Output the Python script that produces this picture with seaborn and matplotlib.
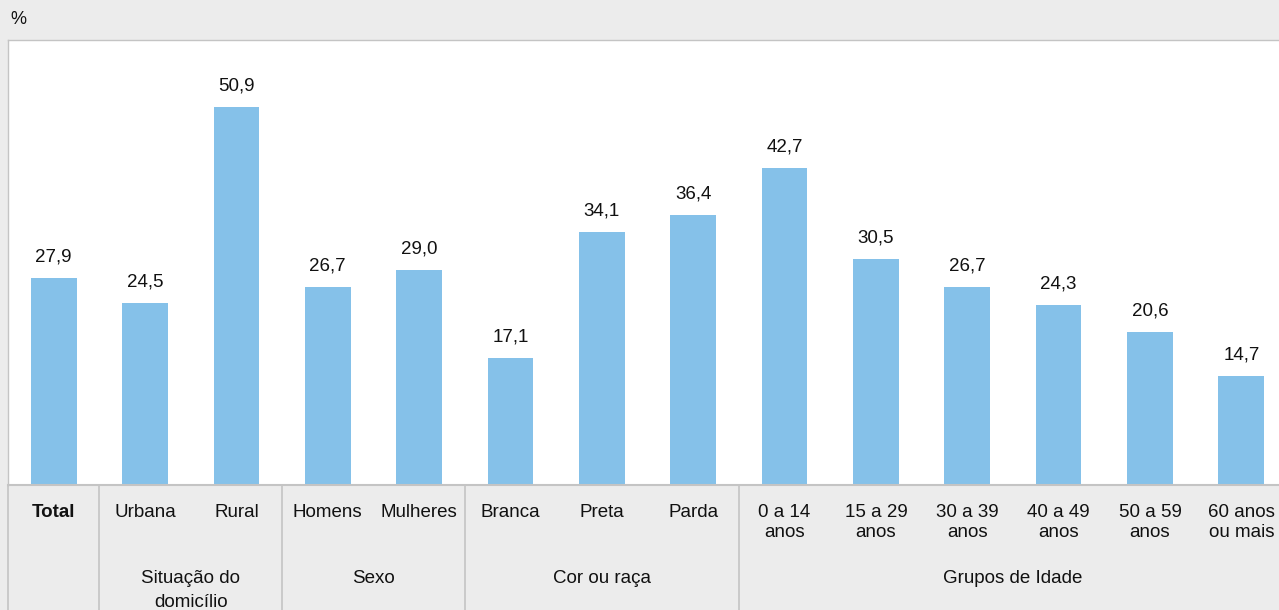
import matplotlib
matplotlib.use("Agg")
import matplotlib.pyplot as plt
import matplotlib.transforms as mtransforms
import seaborn as sns
import pandas as pd

categories = ["Total", "Urbana", "Rural", "Homens", "Mulheres", "Branca", "Preta", "Parda",
              "0 a 14\nanos", "15 a 29\nanos", "30 a 39\nanos", "40 a 49\nanos",
              "50 a 59\nanos", "60 anos\nou mais"]
values = [27.9, 24.5, 50.9, 26.7, 29.0, 17.1, 34.1, 36.4, 42.7, 30.5, 26.7, 24.3, 20.6, 14.7]
groups = ["Situação do\ndomicílio", "Sexo", "Cor ou raça", "Grupos de Idade"]
group_spans = [(1, 2), (3, 4), (5, 7), (8, 13)]

bg = "#ececec"
bar_color = "#85c1e9"
line_color = "#c4c4c4"
fs = 13.5

sns.set_theme(style="white")
plt.rcParams["font.family"] = ["Liberation Sans", "DejaVu Sans"]

df = pd.DataFrame({"cat": categories, "val": values})

fig = plt.figure(figsize=(12.79, 6.10), dpi=100, facecolor=bg)
ax = fig.add_axes([8 / 1279, 125 / 610, 1279 / 1279, 445 / 610])
sns.barplot(data=df, x="cat", y="val", color=bar_color, width=0.5, saturation=1,
            linewidth=0, ax=ax)

ax.set_xlim(-0.5, len(categories) - 0.5)
ax.set_ylim(0, 60)
ax.set_facecolor("white")
for side, sp in ax.spines.items():
    sp.set_color(line_color)
    sp.set_linewidth(1.5 if side == "bottom" else 1.0)
ax.set_yticks([])
ax.set_xlabel("")
ax.set_ylabel("")

labels = [f"{v:.1f}".replace(".", ",") for v in values]
ax.bar_label(ax.containers[0], labels=labels, padding=9, fontsize=fs, color="#111111")

ax.set_xticks(range(len(categories)))
ax.set_xticklabels(categories, fontsize=fs, color="#111111", linespacing=1.22, va="top")
ax.tick_params(axis="x", length=0, pad=14)
ax.get_xticklabels()[0].set_fontweight("bold")

trans = mtransforms.blended_transform_factory(ax.transData, ax.transAxes)
px = 1 / 445
for x in [-0.5, 0.5, 2.5, 4.5, 7.5]:
    ax.plot([x, x], [0, -130 * px], transform=trans, color=line_color, lw=1.2, clip_on=False)

for name, (a, b) in zip(groups, group_spans):
    ax.text((a + b) / 2, -85 * px, name, transform=trans, ha="center", va="top",
            fontsize=fs, color="#111111", linespacing=1.55)

fig.text(10 / 1279, 1 - 20 / 610, "%", fontsize=13, va="center", ha="left", color="#111111")

fig.savefig("out.png", dpi=100, facecolor=bg)
